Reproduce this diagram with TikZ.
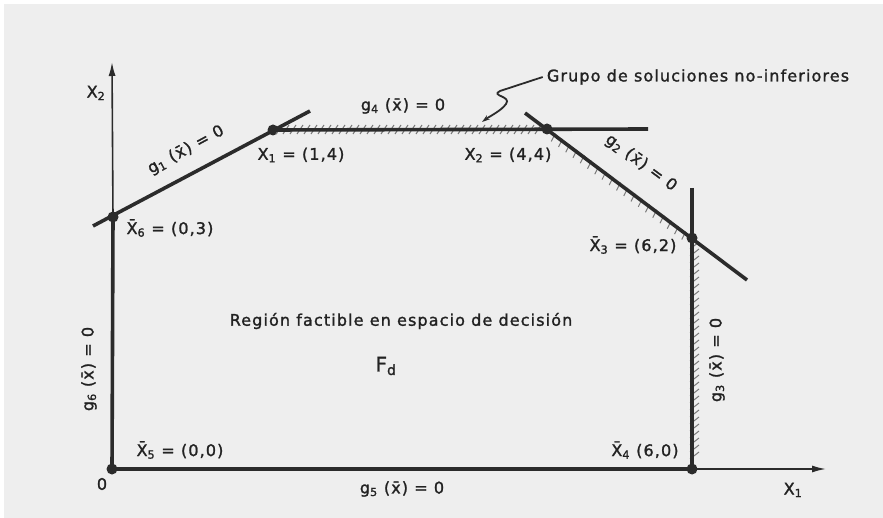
\documentclass[tikz,border=0pt]{standalone}
\usepackage{fontspec}
\setmainfont{DejaVu Sans}[LetterSpace=7,FakeBold=1.5]
\usetikzlibrary{arrows.meta,calc}
\definecolor{bg}{HTML}{EEEEEE}
\definecolor{ln}{HTML}{2B2B2B}
\definecolor{tx}{HTML}{222222}
\definecolor{hc}{HTML}{7A7A7A}
\begin{document}
\begin{tikzpicture}[x=1pt,y=-1pt,
  thickline/.style={draw=ln,line width=3.6pt},
  axisline/.style={draw=ln,line width=1.6pt},
  dot/.style={circle,fill=ln,inner sep=0pt,minimum size=11pt},
  lbl/.style={text=tx,inner sep=1pt,font=\fontsize{16}{18}\selectfont},
  hatch/.style={draw=hc,line width=1pt},
  tip/.style={-{Latex[length=14pt,width=7pt]}}]
\fill[white] (0,0) rectangle (883,518);
\fill[bg] (4,4) rectangle (883,518);
\useasboundingbox (0,0) rectangle (883,518);
% points
\node[dot] (O)  at (112,469) {};
\node[dot] (P6) at (113,217) {};
\node[dot] (P1) at (273,130) {};
\node[dot] (P2) at (547,129) {};
\node[dot] (P3) at (692,238) {};
\node[dot] (P4) at (692,469) {};
\coordinate (xend) at (826,469);
\coordinate (yend) at (112,62);
\coordinate (g1s) at (93,226);
\coordinate (g1e) at (310,111);
\coordinate (g4e) at (648,129);
\coordinate (g2s) at (525,113);
\coordinate (g2e) at (747,280);
\coordinate (g3s) at (692,188);
% hatching
\foreach \x in {279,286,...,541} \draw[hatch] (\x-3,134) -- (\x+3,125);
\foreach \t in {0.05,0.10,...,0.97} \draw[hatch] ($(P2.center)!\t!(P3.center)$) ++(1,-1) -- ++(-4,8);
\foreach \y in {246,253,...,462} \draw[hatch] (690,\y+3) -- (699,\y-4);
% axes
\draw[axisline,tip] (P4.center) -- (xend);
\draw[axisline,tip] (P6.center) -- (yend);
% constraint lines
\draw[thickline] (O.center) -- (P4.center);
\draw[thickline] (O.center) -- (P6.center);
\draw[thickline] (g1s) -- (g1e);
\draw[thickline] (P1.center) -- (g4e);
\draw[thickline] (g2s) -- (g2e);
\draw[thickline] (g3s) -- (P4.center);
% labels
\node[lbl] (ax2) at (96,93) {X\textsubscript{2}};
\node[lbl] (ax1) at (793,490) {X\textsubscript{1}};
\node[lbl] (zero) at (102,484) {0};
\node[lbl,rotate=28.5] (g1) at (186,150) {g\textsubscript{1} (\={x}) = 0};
\node[lbl] (l1) at (301,155) {X\textsubscript{1} = (1,4)};
\node[lbl] (l6) at (170,228) {\={X}\textsubscript{6} = (0,3)};
\node[lbl] (g4) at (403,106) {g\textsubscript{4} (\={x}) = 0};
\node[lbl] (grupo) at (698,77) {Grupo de soluciones no-inferiores};
\node[lbl] (l2) at (508,155) {X\textsubscript{2} = (4,4)};
\node[lbl,rotate=-36.5] (g2) at (641,163) {g\textsubscript{2} (\={x}) = 0};
\node[lbl] (l3) at (633,245) {\={X}\textsubscript{3} = (6,2)};
\node[lbl,rotate=90] (g3) at (717,360) {g\textsubscript{3} (\={x}) = 0};
\node[lbl,rotate=90] (g6) at (89,369) {g\textsubscript{6} (\={x}) = 0};
\node[lbl] (reg) at (401,321) {Región factible en espacio de decisión};
\node[lbl,font=\fontsize{20}{22}\selectfont] (fd) at (386,366) {F\textsubscript{d}};
\node[lbl] (l5) at (180,450) {\={X}\textsubscript{5} = (0,0)};
\node[lbl] (l4) at (645,450) {\={X}\textsubscript{4} (6,0)};
\node[lbl] (g5) at (402,489) {g\textsubscript{5} (\={x}) = 0};
% pointer
\coordinate (ptip) at (482,122);
\draw[ln,line width=1.8pt,-{Stealth[length=8pt,width=5pt]}] ([xshift=-3pt]grupo.west) -- (500,91) .. controls (490,96) and (512,96) .. (506,104) .. controls (501,111) and (490,116) .. (ptip);
\end{tikzpicture}
\end{document}
